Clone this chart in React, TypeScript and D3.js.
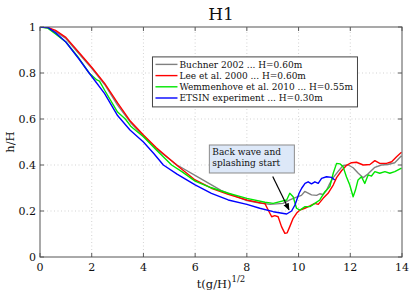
import * as d3 from "d3";

// Buchner 2002 ... H=0.60m
const buchnerT = [0, 0.3, 0.6, 1, 1.5, 2, 2.5, 3, 3.5, 4, 4.5, 5.3, 6.18, 7, 8, 8.5, 8.9, 9.4, 9.66, 9.92, 10.11, 10.24, 10.37, 10.5, 10.7, 10.82, 10.95, 11.08, 11.21, 11.34, 11.53, 11.72, 11.92, 12.11, 12.3, 12.5, 12.69, 12.95, 13.2, 13.46, 13.72, 13.98];
const buchnerH = [1, 0.998, 0.98, 0.95, 0.885, 0.82, 0.75, 0.66, 0.585, 0.525, 0.47, 0.4, 0.343, 0.29, 0.245, 0.235, 0.229, 0.233, 0.248, 0.26, 0.268, 0.285, 0.278, 0.27, 0.268, 0.275, 0.272, 0.29, 0.32, 0.345, 0.372, 0.398, 0.4, 0.388, 0.365, 0.345, 0.362, 0.39, 0.4, 0.402, 0.41, 0.44];

// Lee et al. 2000 ... H=0.60m
const leeT = [0, 0.3, 0.6, 1, 1.5, 2, 2.5, 3, 3.5, 4, 4.5, 5.28, 6, 6.63, 7.28, 8, 8.57, 8.7, 8.8, 8.96, 9.08, 9.21, 9.34, 9.47, 9.56, 9.66, 9.79, 9.92, 10.05, 10.24, 10.44, 10.63, 10.76, 10.95, 11.14, 11.34, 11.47, 11.66, 11.85, 12.05, 12.24, 12.5, 12.76, 12.95, 13.14, 13.4, 13.6, 13.79, 13.98];
const leeH = [1, 0.998, 0.985, 0.955, 0.89, 0.825, 0.755, 0.67, 0.59, 0.53, 0.475, 0.4, 0.335, 0.299, 0.272, 0.248, 0.234, 0.232, 0.21, 0.175, 0.18, 0.175, 0.132, 0.103, 0.105, 0.132, 0.168, 0.19, 0.204, 0.212, 0.222, 0.233, 0.229, 0.255, 0.277, 0.313, 0.345, 0.375, 0.398, 0.41, 0.412, 0.4, 0.402, 0.419, 0.407, 0.407, 0.414, 0.436, 0.455];

// Wemmenhove et al. 2010 ... H=0.55m
const wemT = [0, 0.3, 0.6, 1, 1.5, 1.9, 2.2, 2.3, 2.5, 3, 3.3, 3.5, 3.6, 4, 4.5, 5.09, 5.5, 6, 6.6, 7.28, 8, 8.7, 9.02, 9.28, 9.54, 9.66, 9.79, 9.92, 10.05, 10.25, 10.44, 10.63, 10.82, 11.02, 11.21, 11.34, 11.47, 11.6, 11.72, 11.85, 11.98, 12.11, 12.2, 12.3, 12.43, 12.56, 12.69, 12.82, 12.95, 13.14, 13.34, 13.53, 13.72, 13.98];
const wemH = [1, 0.995, 0.97, 0.935, 0.865, 0.8, 0.77, 0.765, 0.725, 0.63, 0.6, 0.57, 0.56, 0.523, 0.465, 0.4, 0.37, 0.33, 0.302, 0.277, 0.255, 0.238, 0.233, 0.241, 0.248, 0.277, 0.262, 0.212, 0.204, 0.219, 0.219, 0.233, 0.248, 0.284, 0.306, 0.364, 0.407, 0.405, 0.393, 0.349, 0.313, 0.262, 0.291, 0.335, 0.349, 0.32, 0.357, 0.352, 0.371, 0.364, 0.371, 0.364, 0.371, 0.386];

// ETSIN experiment ... H=0.30m
const etsinT = [0, 0.3, 0.6, 1, 1.5, 1.9, 2.5, 3, 3.48, 4, 4.4, 4.77, 5.3, 6, 6.63, 7.28, 8, 8.5, 9.02, 9.54, 9.73, 9.86, 10.02, 10.12, 10.25, 10.37, 10.5, 10.63, 10.76, 10.89, 11.08, 11.28, 11.4];
const etsinH = [1, 0.998, 0.975, 0.935, 0.862, 0.8, 0.71, 0.615, 0.552, 0.5, 0.45, 0.4, 0.36, 0.314, 0.277, 0.248, 0.229, 0.212, 0.197, 0.187, 0.2, 0.226, 0.277, 0.299, 0.32, 0.327, 0.318, 0.327, 0.32, 0.342, 0.349, 0.346, 0.335];

const legendLabels = [
    "Buchner 2002 ... H=0.60m",
    "Lee et al. 2000 ... H=0.60m",
    "Wemmenhove et al. 2010 ... H=0.55m",
    "ETSIN experiment ... H=0.30m",
];
const seriesColors = ["#808080", "#ff0000", "#00e600", "#0000ff"];
const xTicks = [0, 2, 4, 6, 8, 10, 12, 14];
const yTicks = [0, 0.2, 0.4, 0.6, 0.8, 1];
const yTickLabels = ["0", "0.2", "0.4", "0.6", "0.8", "1"];

const series = [
    { t: buchnerT, h: buchnerH },
    { t: leeT, h: leeH },
    { t: wemT, h: wemH },
    { t: etsinT, h: etsinH },
];

const FONT = "'DejaVu Serif', serif";

export default function App() {
    const width = 411;
    const height = 293;
    const margin = { top: 27, right: 9, bottom: 36, left: 40 };

    const x = d3.scaleLinear().domain([0, 14]).range([margin.left, width - margin.right]);
    const y = d3.scaleLinear().domain([0, 1]).range([height - margin.bottom, margin.top]);

    const line = d3
        .line<[number, number]>()
        .x((d) => x(d[0]))
        .y((d) => y(d[1]));

    const x0 = x(0);
    const x1 = x(14);
    const y0 = y(0);
    const y1 = y(1);
    const tickLen = 4;

    // legend box in pixels relative to plot
    const lgX = x(4.35);
    const lgY = y(0.87);
    const lgW = 205;
    const lgH = 50;

    // annotation
    const boxX = x(6.55);
    const boxY = y(0.487);
    const arrowFrom: [number, number] = [x(9.0), y(0.35)];
    const arrowTo: [number, number] = [x(9.63), y(0.205)];

    return (
        <svg width={width} height={height} style={{ display: "block", position: "absolute", left: 0, top: 0 }}>
            <style>{`body{margin:0}`}</style>
            <rect x={0} y={0} width={width} height={height} fill="#fff" />
            <defs>
                <marker id="arrowhead" viewBox="0 0 10 10" refX="9" refY="5" markerWidth="6" markerHeight="6" orient="auto">
                    <path d="M0,1 L10,5 L0,9 Z" fill="#000" />
                </marker>
                <clipPath id="plotclip">
                    <rect x={x0} y={y1} width={x1 - x0} height={y0 - y1} />
                </clipPath>
            </defs>

            {/* grid */}
            {xTicks.slice(1, -1).map((t) => (
                <line key={"gx" + t} x1={x(t)} x2={x(t)} y1={y0} y2={y1} stroke="#c8c8c8" strokeWidth={0.8} strokeDasharray="1 2.5" />
            ))}
            {yTicks.slice(1, -1).map((t) => (
                <line key={"gy" + t} x1={x0} x2={x1} y1={y(t)} y2={y(t)} stroke="#c8c8c8" strokeWidth={0.8} strokeDasharray="1 2.5" />
            ))}

            {/* ticks */}
            {xTicks.map((t) => (
                <g key={"xt" + t}>
                    <line x1={x(t)} x2={x(t)} y1={y0} y2={y0 - tickLen} stroke="#333" strokeWidth={0.8} />
                    <line x1={x(t)} x2={x(t)} y1={y1} y2={y1 + tickLen} stroke="#333" strokeWidth={0.8} />
                    <text x={x(t)} y={y0 + 14} textAnchor="middle" fontFamily={FONT} fontSize={11} fill="#111">
                        {t}
                    </text>
                </g>
            ))}
            {yTicks.map((t, i) => (
                <g key={"yt" + t}>
                    <line x1={x0} x2={x0 + tickLen} y1={y(t)} y2={y(t)} stroke="#333" strokeWidth={0.8} />
                    <line x1={x1} x2={x1 - tickLen} y1={y(t)} y2={y(t)} stroke="#333" strokeWidth={0.8} />
                    <text x={x0 - 4} y={y(t) + 4} textAnchor="end" fontFamily={FONT} fontSize={11} fill="#111">
                        {yTickLabels[i]}
                    </text>
                </g>
            ))}

            {/* data */}
            <g clipPath="url(#plotclip)">
                {series.map((s, i) => (
                    <path
                        key={legendLabels[i]}
                        d={line(s.t.map((t, j) => [t, s.h[j]] as [number, number])) ?? ""}
                        fill="none"
                        stroke={seriesColors[i]}
                        strokeWidth={1.4}
                        strokeLinejoin="round"
                    />
                ))}
            </g>

            {/* axes box */}
            <rect x={x0} y={y1} width={x1 - x0} height={y0 - y1} fill="none" stroke="#555" strokeWidth={1} />

            {/* legend */}
            <rect x={lgX} y={lgY} width={lgW} height={lgH} fill="#fff" stroke="#444" strokeWidth={1} />
            {legendLabels.map((label, i) => {
                const ly = lgY + 7.5 + i * 11.2;
                return (
                    <g key={label}>
                        <line x1={lgX + 3} x2={lgX + 25} y1={ly} y2={ly} stroke={seriesColors[i]} strokeWidth={1.4} />
                        <text x={lgX + 27} y={ly + 3.2} fontFamily={FONT} fontSize={9} fill="#111">
                            {label}
                        </text>
                    </g>
                );
            })}

            {/* annotation */}
            <rect x={boxX} y={boxY} width={85} height={28} fill="#dde8f8" stroke="#8c8c8c" strokeWidth={1} />
            <text fontFamily={FONT} fontSize={9} fill="#111">
                <tspan x={boxX + 3} y={boxY + 10.5}>Back wave and</tspan>
                <tspan x={boxX + 3} y={boxY + 21.5}>splashing start</tspan>
            </text>
            <line
                x1={arrowFrom[0]}
                y1={arrowFrom[1]}
                x2={arrowTo[0]}
                y2={arrowTo[1]}
                stroke="#000"
                strokeWidth={1.2}
                markerEnd="url(#arrowhead)"
            />

            {/* titles */}
            <text x={(x0 + x1) / 2} y={20} textAnchor="middle" fontFamily={FONT} fontSize={17} fill="#111">
                H1
            </text>
            <text x={(x0 + x1) / 2} y={288} textAnchor="middle" fontFamily={FONT} fontSize={11.5} fill="#111">
                t(g/H)
                <tspan dy={-6} fontSize={8.5}>1/2</tspan>
            </text>
            <text
                transform={`translate(14, ${(y0 + y1) / 2}) rotate(-90)`}
                textAnchor="middle"
                fontFamily={FONT}
                fontSize={11.5}
                fill="#111"
            >
                h/H
            </text>
        </svg>
    );
}
